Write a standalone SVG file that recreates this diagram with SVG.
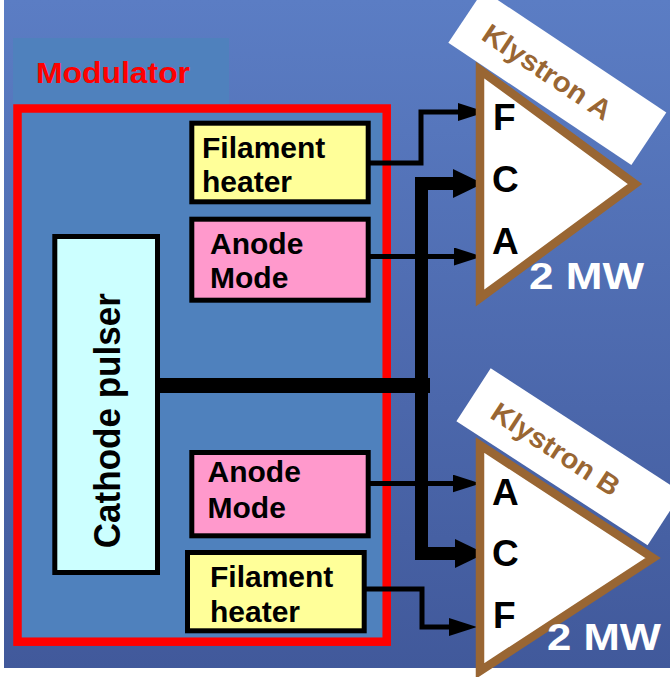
<svg xmlns="http://www.w3.org/2000/svg" width="670" height="677" viewBox="0 0 670 677">
  <defs>
    <linearGradient id="bg" x1="0" y1="0" x2="0" y2="1">
      <stop offset="0" stop-color="#5b7dc4"/>
      <stop offset="1" stop-color="#41599b"/>
    </linearGradient>
    <marker id="thin" markerUnits="userSpaceOnUse" markerWidth="28" markerHeight="18" viewBox="0 0 28 18" refX="14" refY="9" orient="auto-start-reverse">
      <path d="M0,0 L28,9 L0,18 z" fill="#000"/>
    </marker>
    <marker id="thick" markerUnits="userSpaceOnUse" markerWidth="30" markerHeight="30" viewBox="0 0 30 30" refX="15" refY="15" orient="auto-start-reverse">
      <path d="M0,0.5 L30,15 L0,29.5 z" fill="#000"/>
    </marker>
    <style>
      .t { font-family: "Liberation Sans", Arial, sans-serif; font-weight: bold; }
      .box { stroke: #000; stroke-width: 5; }
      .fil { fill: #ffff99; }
      .ano { fill: #ff99cc; }
      .lbl { font-size: 30px; fill: #000; }
      .pin { font-size: 37px; fill: #000; }
      .mw { font-size: 37px; fill: #fff; }
      .kly { fill: #fff; stroke: #996633; stroke-width: 8.5; stroke-linejoin: miter; }
      .klbl { font-size: 28px; fill: #996633; }
      .wire { fill: none; stroke: #000; stroke-width: 5; stroke-linejoin: miter; }
      .bus { fill: none; stroke: #000; stroke-width: 13; stroke-linejoin: miter; }
    </style>
  </defs>

  <rect x="0" y="0" width="670" height="677" fill="#fff"/>
  <rect x="4" y="0" width="666" height="668" fill="url(#bg)"/>

  <g id="modulator">
    <rect x="13" y="38" width="216" height="68" fill="#4f81bd"/>
    <text class="t" x="36" y="83" font-size="30" fill="#ff0000" textLength="154" lengthAdjust="spacingAndGlyphs">Modulator</text>
    <rect x="17.5" y="108.5" width="369.2" height="533.2" fill="#4f81bd" stroke="#ff0000" stroke-width="8.5"/>
  </g>

  <g id="filament-heater-a">
    <rect class="box fil" x="191.8" y="123.2" width="176.4" height="78.6"/>
    <text class="t lbl" x="202"><tspan x="202" y="158">Filament</tspan><tspan x="202" y="191.5">heater</tspan></text>
  </g>

  <g id="anode-mode-a">
    <rect class="box ano" x="191.8" y="219.2" width="176.4" height="81"/>
    <text class="t lbl"><tspan x="210" y="254">Anode</tspan><tspan x="210" y="287.5">Mode</tspan></text>
  </g>

  <g id="anode-mode-b">
    <rect class="box ano" x="191.8" y="452.5" width="176.4" height="83.3"/>
    <text class="t lbl"><tspan x="207.5" y="481.5">Anode</tspan><tspan x="207.5" y="517.5">Mode</tspan></text>
  </g>

  <g id="filament-heater-b">
    <rect class="box fil" x="187.5" y="552.5" width="176.7" height="78.3"/>
    <text class="t lbl"><tspan x="210" y="586.5">Filament</tspan><tspan x="210" y="621.5">heater</tspan></text>
  </g>

  <g id="cathode-pulser">
    <rect class="box" x="54.8" y="236.5" width="102.7" height="336" fill="#ccffff"/>
    <text class="t" transform="translate(120,420.7) rotate(-90)" x="0" y="0" font-size="36" fill="#000" text-anchor="middle" textLength="255" lengthAdjust="spacingAndGlyphs">Cathode pulser</text>
  </g>

  <g id="connectors">
    <path class="wire" d="M370,163 H421 V112 H472" marker-end="url(#thin)"/>
    <path class="wire" d="M370,256.5 H468" marker-end="url(#thin)"/>
    <path class="wire" d="M370,483.5 H466.5" marker-end="url(#thin)"/>
    <path class="wire" d="M366,589 H422 V627 H463" marker-end="url(#thin)"/>
    <path class="bus" d="M468,183.5 H421.5 V553.5 H470" marker-start="url(#thick)" marker-end="url(#thick)"/>
    <path d="M158,385.5 H430" fill="none" stroke="#000" stroke-width="15"/>
  </g>

  <g id="klystron-a">
    <polygon class="kly" points="480,70 635,184 480,298"/>
    <text class="t pin" x="493" y="130">F</text>
    <text class="t pin" x="492" y="192">C</text>
    <text class="t pin" x="492" y="254">A</text>
    <text class="t mw" x="529" y="289" textLength="115" lengthAdjust="spacingAndGlyphs">2 MW</text>
    <g transform="translate(483.3,-9.6) rotate(33.7)">
      <rect x="0" y="0" width="220" height="63" fill="#fff"/>
      <text class="t klbl" x="24" y="42" textLength="149" lengthAdjust="spacingAndGlyphs">Klystron A</text>
    </g>
  </g>

  <g id="klystron-b">
    <polygon class="kly" points="480,445 653,558 480,671"/>
    <text class="t pin" x="492" y="505">A</text>
    <text class="t pin" x="492" y="566">C</text>
    <text class="t pin" x="493" y="628">F</text>
    <text class="t mw" x="547" y="650" textLength="114" lengthAdjust="spacingAndGlyphs">2 MW</text>
    <g transform="translate(490.7,368.3) rotate(33)">
      <rect x="0" y="0" width="228" height="63" fill="#fff"/>
      <text class="t klbl" x="25" y="42" textLength="147" lengthAdjust="spacingAndGlyphs">Klystron B</text>
    </g>
  </g>
</svg>
